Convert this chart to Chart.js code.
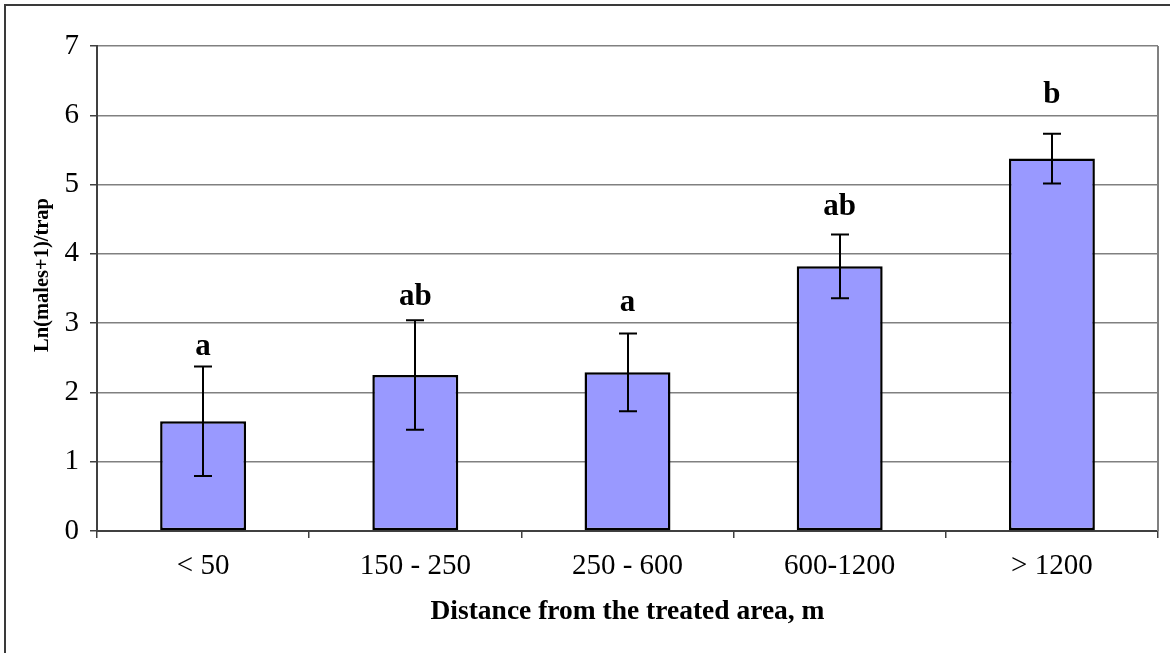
<!DOCTYPE html>
<html>
<head>
<meta charset="utf-8">
<script src="https://cdn.jsdelivr.net/npm/chart.js@4"></script>
<style>
  html, body { margin: 0; padding: 0; background: #ffffff; }
  #wrap { width: 1170px; height: 653px; position: relative; }
</style>
</head>
<body>
<div id="wrap"><canvas id="c" width="1170" height="653"></canvas></div>
<script>
const categories = ['< 50', '150 - 250', '250 - 600', '600-1200', '> 1200'];
const means = [1.585, 2.25, 2.29, 3.82, 5.375];
const errors = [0.79, 0.79, 0.56, 0.46, 0.36];
const letters = ['a', 'ab', 'a', 'ab', 'b'];
const letterLevels = [2.66, 3.38, 3.29, 4.68, 6.30];
const yTicks = [0, 1, 2, 3, 4, 5, 6, 7];
const xTitle = 'Distance from the treated area, m';
const yTitle = 'Ln(males+1)/trap';

const SERIF = "'Liberation Serif', 'Times New Roman', serif";

const decorPlugin = {
  id: 'decor',
  beforeDraw(chart) {
    const ctx = chart.ctx;
    ctx.save();
    ctx.fillStyle = '#ffffff';
    ctx.fillRect(0, 0, chart.width, chart.height);
    ctx.strokeStyle = '#3a3a3a';
    ctx.lineWidth = 2;
    ctx.beginPath();
    ctx.moveTo(5, chart.height);
    ctx.lineTo(5, 5);
    ctx.lineTo(chart.width, 5);
    ctx.stroke();
    ctx.restore();
  },
  afterDraw(chart) {
    const ctx = chart.ctx;
    const a = chart.chartArea;
    ctx.save();
    ctx.strokeStyle = '#808080';
    ctx.lineWidth = 2;
    ctx.beginPath();
    ctx.moveTo(a.right, a.top);
    ctx.lineTo(a.right, a.bottom);
    ctx.stroke();
    ctx.fillStyle = '#000000';
    ctx.font = 'bold 20.5px ' + SERIF;
    ctx.textAlign = 'center';
    ctx.textBaseline = 'middle';
    ctx.translate(43, 275);
    ctx.rotate(-Math.PI / 2);
    ctx.fillText(yTitle, 0, 0);
    ctx.restore();
  },
  afterDatasetsDraw(chart) {
    const ctx = chart.ctx;
    const meta = chart.getDatasetMeta(0);
    const ys = chart.scales.y;
    ctx.save();
    ctx.strokeStyle = '#000000';
    ctx.lineWidth = 2;
    meta.data.forEach((bar, i) => {
      const x = Math.round(bar.x);
      const yHi = ys.getPixelForValue(means[i] + errors[i]);
      const yLo = ys.getPixelForValue(means[i] - errors[i]);
      ctx.beginPath();
      ctx.moveTo(x, yHi);
      ctx.lineTo(x, yLo);
      ctx.moveTo(x - 9, yHi);
      ctx.lineTo(x + 9, yHi);
      ctx.moveTo(x - 9, yLo);
      ctx.lineTo(x + 9, yLo);
      ctx.stroke();
      ctx.fillStyle = '#000000';
      ctx.font = 'bold 31px ' + SERIF;
      ctx.textAlign = 'center';
      ctx.textBaseline = 'middle';
      ctx.fillText(letters[i], bar.x, ys.getPixelForValue(letterLevels[i]));
    });
    ctx.restore();
  }
};

new Chart(document.getElementById('c'), {
  type: 'bar',
  data: {
    labels: categories,
    datasets: [{
      data: means,
      backgroundColor: '#9999FF',
      borderColor: '#000000',
      borderWidth: 2.5,
      borderSkipped: false,
      barPercentage: 0.405,
      categoryPercentage: 1.0
    }]
  },
  options: {
    responsive: false,
    animation: false,
    devicePixelRatio: 1,
    layout: { padding: { top: 46, right: 12, bottom: 0, left: 0 } },
    plugins: {
      legend: { display: false },
      tooltip: { enabled: false }
    },
    scales: {
      x: {
        offset: true,
        grid: {
          offset: true,
          drawOnChartArea: false,
          drawTicks: true,
          tickLength: 7,
          tickColor: '#404040',
          lineWidth: 1.5
        },
        border: { color: '#404040', width: 2 },
        ticks: {
          color: '#000000',
          font: { family: SERIF, size: 29 },
          padding: 11,
          maxRotation: 0
        },
        title: {
          display: true,
          text: xTitle,
          color: '#000000',
          font: { family: SERIF, size: 27.5, weight: 'bold' },
          padding: { top: 0, bottom: 25 }
        },
        afterFit(scale) { scale.height = 122; }
      },
      y: {
        min: 0,
        max: 7,
        afterBuildTicks(scale) { scale.ticks = yTicks.map(v => ({ value: v })); },
        grid: {
          color: '#808080',
          lineWidth: 1.5,
          drawTicks: true,
          tickLength: 7,
          tickColor: '#404040'
        },
        border: { color: '#404040', width: 2 },
        ticks: {
          color: '#000000',
          font: { family: SERIF, size: 29 },
          padding: 11
        },
        afterFit(scale) { scale.width = 97; }
      }
    }
  },
  plugins: [decorPlugin]
});
</script>
</body>
</html>
